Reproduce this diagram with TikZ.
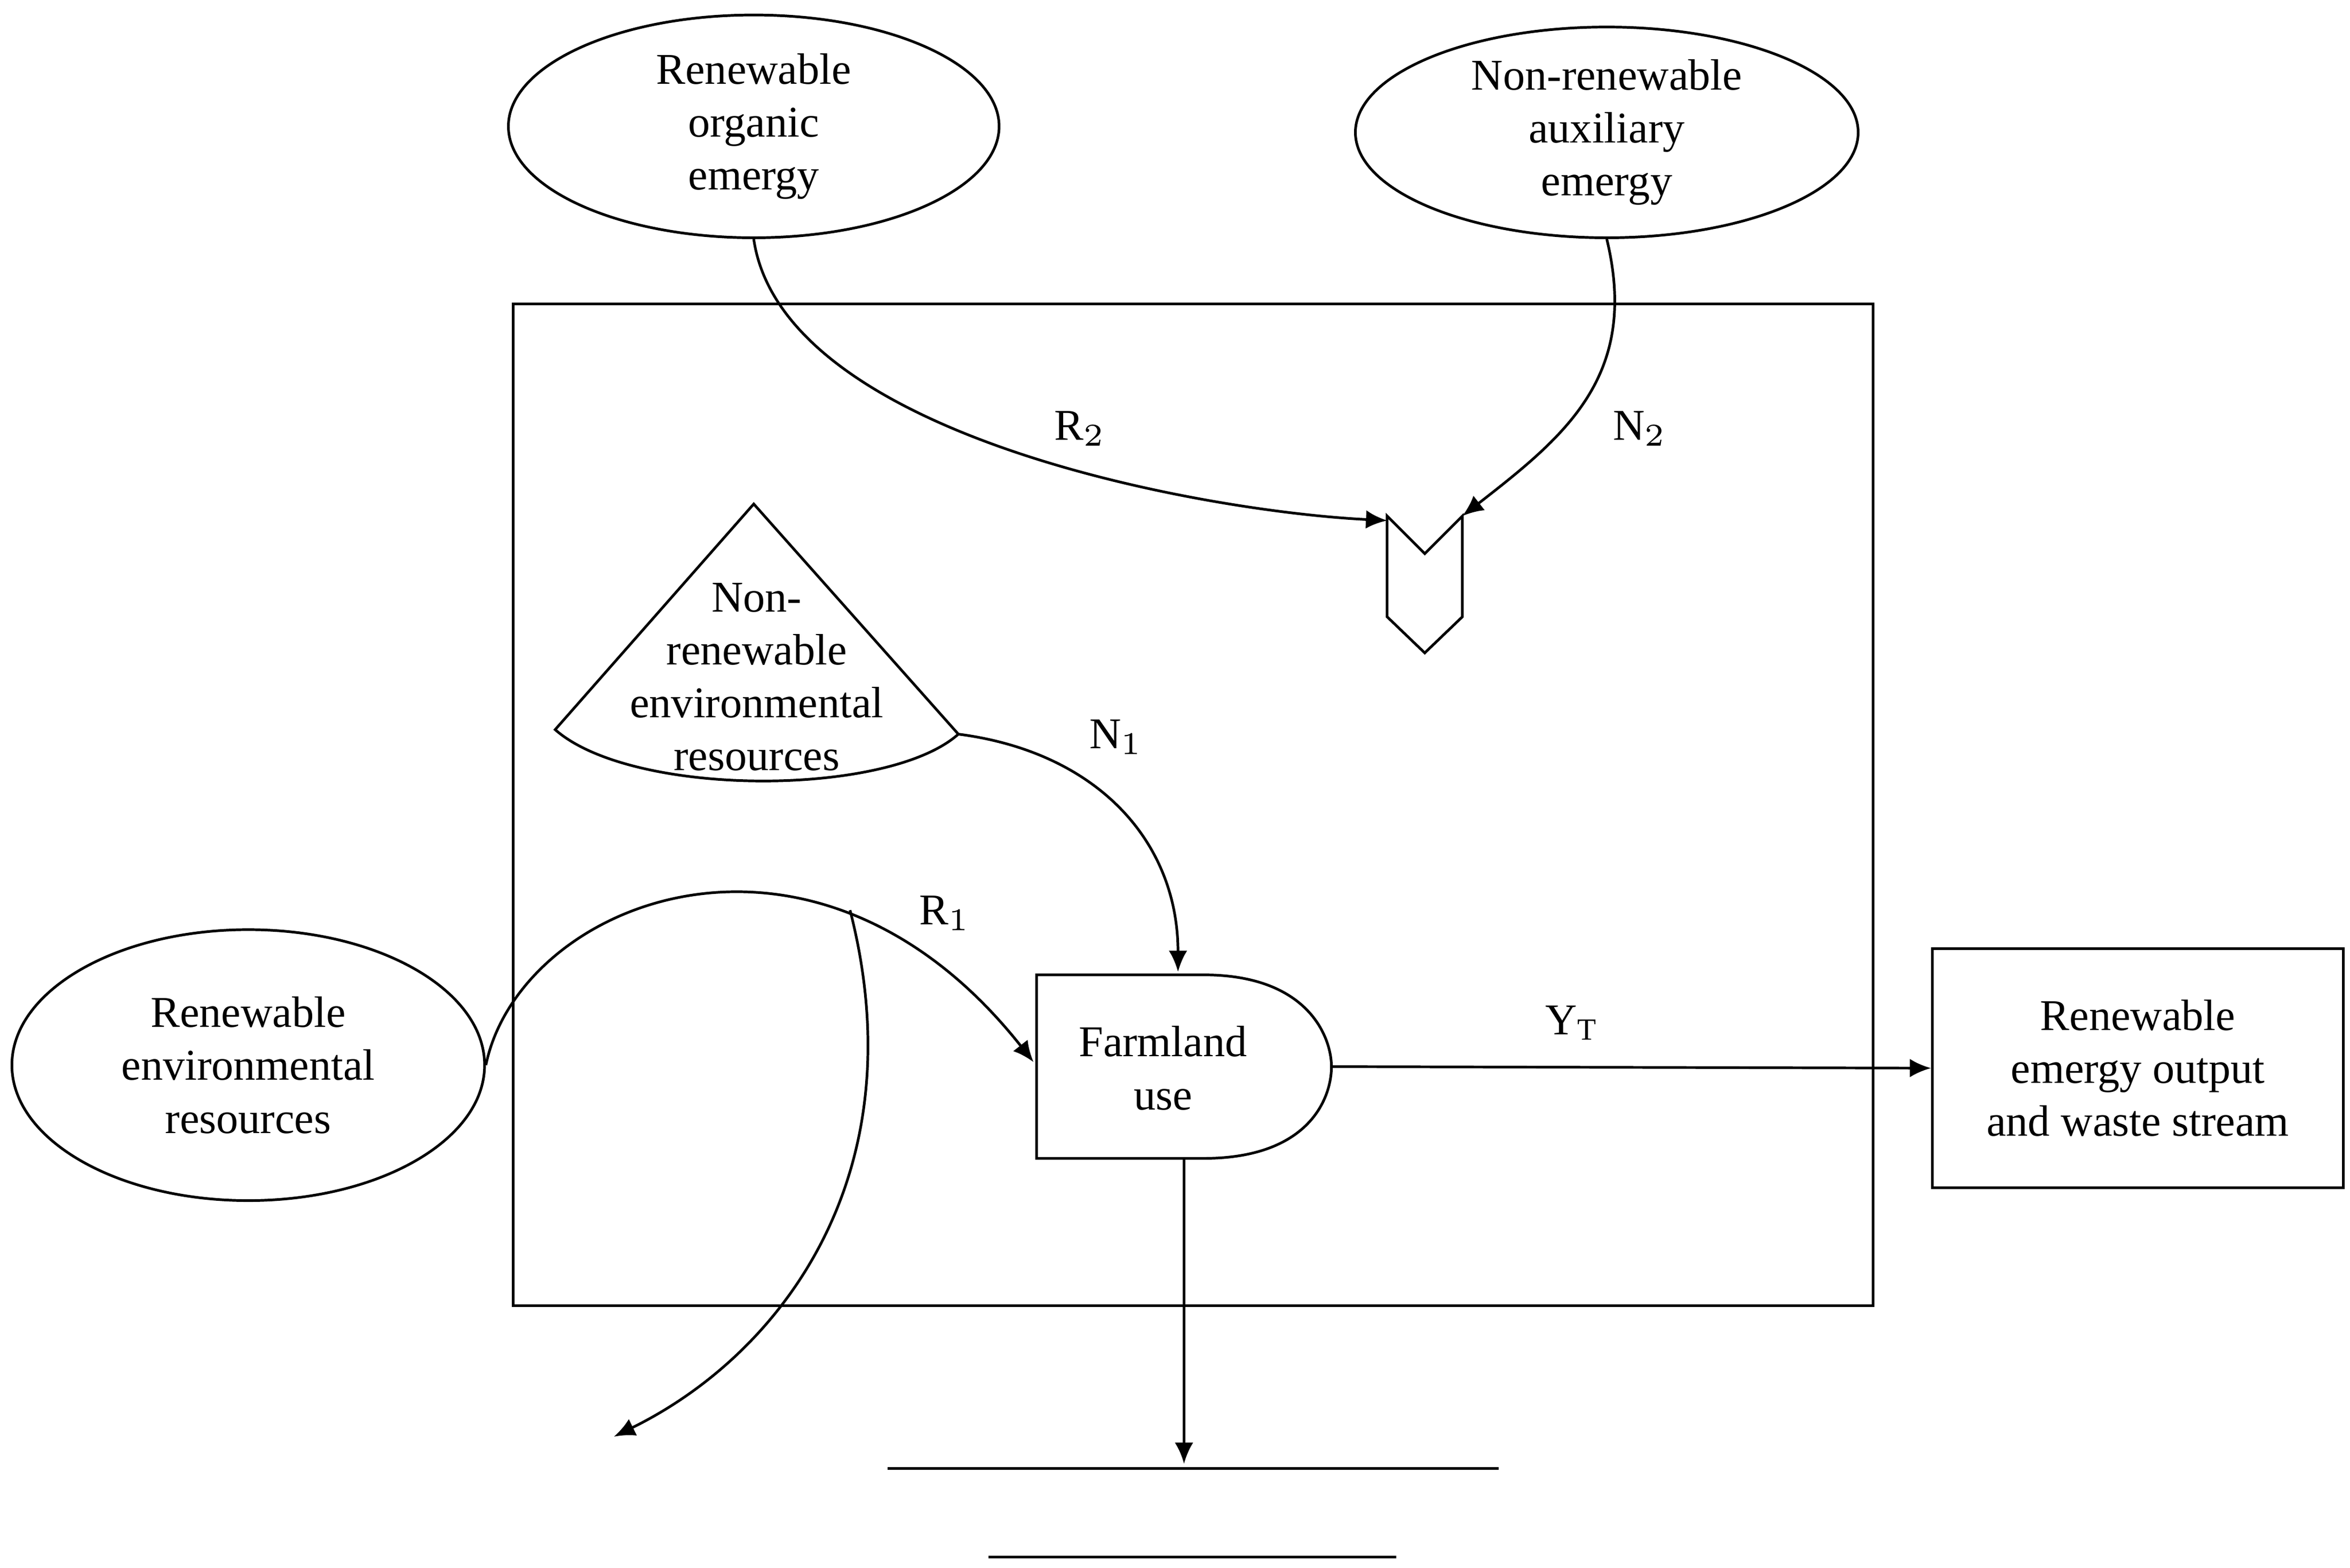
\documentclass[tikz,border=0pt]{standalone}
\usepackage{fontspec}
\setmainfont{Liberation Serif}
\usetikzlibrary{shapes.geometric,arrows.meta}
\begin{document}
\begin{tikzpicture}[x=0.01cm,y=-0.01cm,
  every node/.style={font=\fontsize{8.3}{10}\selectfont, align=center},
  ln/.style={line width=0.5pt},
  ar/.style={ln,-{Latex[length=4pt,width=3.5pt]}},
  el/.style={ln,draw,ellipse,inner sep=0pt}]
\useasboundingbox (0,0) rectangle (1562,1042);
\node[el,minimum width=326\pgflinewidth*0+3.26cm,minimum height=1.48cm] (ro) at (501,84) {Renewable\\organic\\emergy};
\node[el,minimum width=3.34cm,minimum height=1.40cm] (na) at (1068,88) {Non-renewable\\auxiliary\\emergy};
\node[el,minimum width=3.14cm,minimum height=1.80cm] (re) at (165,708) {Renewable\\environmental\\resources};
\draw[ln] (341,202) rectangle (1245,868);
\node[ln,draw,minimum width=2.73cm,minimum height=1.59cm,inner sep=0pt] (out) at (1421,710) {Renewable\\emergy output\\and waste stream};
% triangle sector
\draw[ln] (501,335) -- (637,488) .. controls (590,530) and (420,530) .. (369,485) -- cycle;
\node (nr) at (503,450) {Non-\\renewable\\environmental\\resources};
\coordinate (nrR) at (637,488);
% farmland D shape
\draw[ln] (689,648) -- (800,648) .. controls (870,648) and (885,690) .. (885,709) .. controls (885,730) and (870,770) .. (800,770) -- (689,770) -- cycle;
\node (fu) at (773,710) {Farmland\\use};
\coordinate (fuL) at (687,706); \coordinate (fuT) at (783,646);
\coordinate (fuR) at (885,709); \coordinate (fuB) at (787,770);
% notch shape
\draw[ln] (922,343) -- (947,368) -- (972,343) -- (972,410) -- (947,434) -- (922,410) -- cycle;
\coordinate (nL) at (922,346); \coordinate (nR) at (972,343);
% arrows
\draw[ar] (ro.south) .. controls (520,290) and (800,340) .. (nL);
\node at (718,285) {R$_2$};
\draw[ar] (na.south) .. controls (1090,250) and (1040,290) .. (nR);
\node at (1090,285) {N$_2$};
\draw[ar] (nrR) .. controls (730,500) and (783,560) .. (fuT);
\node at (742,490) {N$_1$};
\draw[ar] (re.east) .. controls (345,600) and (540,520) .. (fuL);
\node at (628,607) {R$_1$};
\coordinate (s) at (565,605); \coordinate (se) at (408,955);
\draw[ar] (s) .. controls (610,780) and (520,900) .. (se);
\draw[ar] (fuR) -- (out.west);
\node at (1045,680) {Y$_{\mathrm{T}}$};
\coordinate (gb) at (787,973);
\draw[ar] (fuB) -- (gb);
\coordinate (g1) at (590,976); \coordinate (g2) at (996,976);
\coordinate (g3) at (657,1035); \coordinate (g4) at (928,1035);
\draw[ln] (g1) -- (g2); \draw[ln] (g3) -- (g4);
\end{tikzpicture}
\end{document}
